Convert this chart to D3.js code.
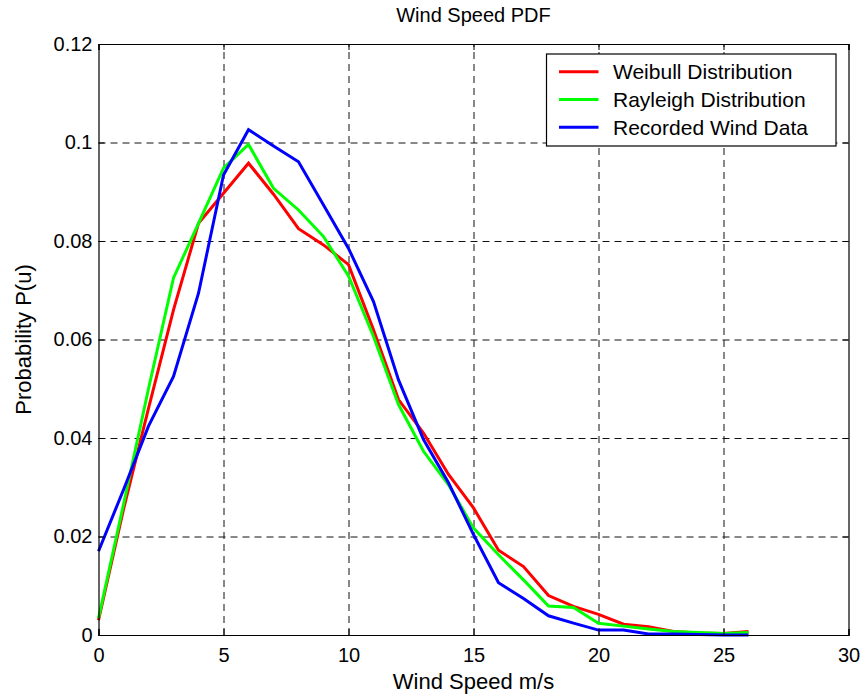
<!DOCTYPE html>
<html>
<head>
<meta charset="utf-8">
<script src="https://cdn.jsdelivr.net/npm/d3@7"></script>
<style>
    body { margin: 0; background: #ffffff; }
    svg text { font-family: "Liberation Sans", Arial, sans-serif; fill: #000; }
</style>
</head>
<body>
<div id="chart"></div>
<script>
// Wind speed PDF: fitted distributions vs recorded data
const windSpeeds = d3.range(0, 27);   // m/s, one point per integer speed

const weibull = [0.003, 0.0255, 0.046, 0.066, 0.0836, 0.0897, 0.0958, 0.0895, 0.0825, 0.0792,
    0.0752, 0.062, 0.0478, 0.041, 0.0326, 0.0258, 0.0172, 0.0139, 0.008, 0.0058,
    0.0042, 0.0022, 0.0017, 0.0007, 0.0004, 0.0003, 0.0007];

const rayleigh = [0.0034, 0.0265, 0.050, 0.0725, 0.0836, 0.0948, 0.0996, 0.0907, 0.0863, 0.0809,
    0.0729, 0.0606, 0.0468, 0.0373, 0.0305, 0.0217, 0.0163, 0.0112, 0.0059, 0.0056,
    0.0024, 0.0018, 0.0012, 0.0007, 0.0005, 0.0003, 0.0005];

const recorded = [0.017, 0.0295, 0.0424, 0.0525, 0.0694, 0.0934, 0.1026, 0.0993, 0.0961, 0.0873,
    0.0785, 0.0677, 0.0518, 0.0397, 0.0309, 0.0204, 0.0106, 0.0074, 0.0039, 0.0024,
    0.001, 0.001, 0.0002, 0.0002, 0.0001, 0, 0];

const seriesNames = ['Weibull Distribution', 'Rayleigh Distribution', 'Recorded Wind Data'];
const seriesColors = ['#ff0000', '#00ff00', '#0000ff'];

const xTicks = [0, 5, 10, 15, 20, 25, 30];
const yTicks = [0, 0.02, 0.04, 0.06, 0.08, 0.1, 0.12];

const containerWidth = 861;
const containerHeight = 696;
const margin = { top: 44, right: 12.5, bottom: 61, left: 98.5 };
const width = containerWidth - margin.left - margin.right;
const height = containerHeight - margin.top - margin.bottom;

const svg = d3.select('#chart')
    .append('svg')
    .attr('width', containerWidth)
    .attr('height', containerHeight);

const g = svg.append('g')
    .attr('transform', `translate(${margin.left},${margin.top})`);

// Scales
const xScale = d3.scaleLinear().domain([0, 30]).range([0, width]);
const yScale = d3.scaleLinear().domain([0, 0.12]).range([height, 0]);

// Dashed grid (skip the lines sitting on the box)
g.append('g')
    .attr('class', 'grid grid--x')
    .attr('transform', `translate(0,${height})`)
    .call(d3.axisBottom(xScale).tickValues(xTicks.slice(1, -1)).tickSize(-height).tickFormat(''))
    .call(a => a.select('.domain').remove());

g.append('g')
    .attr('class', 'grid grid--y')
    .call(d3.axisLeft(yScale).tickValues(yTicks.slice(1, -1)).tickSize(-width).tickFormat(''))
    .call(a => a.select('.domain').remove());

g.selectAll('.grid line')
    .attr('stroke', '#111')
    .attr('stroke-width', 1)
    .attr('stroke-dasharray', '7,5');

// Lines
const line = d3.line()
    .x((d, i) => xScale(windSpeeds[i]))
    .y(d => yScale(d));

[weibull, rayleigh, recorded].forEach((values, i) => {
    g.append('path')
        .datum(values)
        .attr('fill', 'none')
        .attr('stroke', seriesColors[i])
        .attr('stroke-width', 3)
        .attr('stroke-linejoin', 'miter')
        .attr('d', line);
});

// Axes with inward ticks on all four sides
const tickFont = '20px';

g.append('g')
    .attr('class', 'x-axis')
    .attr('transform', `translate(0,${height})`)
    .call(d3.axisBottom(xScale).tickValues(xTicks).tickSize(-6).tickPadding(13).tickFormat(d3.format('d')))
    .style('font-size', tickFont);

g.append('g')
    .attr('class', 'y-axis')
    .call(d3.axisLeft(yScale).tickValues(yTicks).tickSize(-6).tickPadding(6).tickFormat(d => d === 0 ? '0' : String(+d.toFixed(2))))
    .style('font-size', tickFont);

g.append('g')
    .call(d3.axisTop(xScale).tickValues(xTicks).tickSize(-6).tickFormat(''));

g.append('g')
    .attr('transform', `translate(${width},0)`)
    .call(d3.axisRight(yScale).tickValues(yTicks).tickSize(-6).tickFormat(''));

g.selectAll('.domain').attr('stroke', '#000').attr('stroke-width', 1.2);
g.selectAll('.tick text').style('font-family', '"Liberation Sans", Arial, sans-serif').attr('fill', '#000');

// Title and axis labels
svg.append('text')
    .attr('text-anchor', 'middle')
    .attr('x', margin.left + width / 2)
    .attr('y', 22)
    .style('font-size', '20px')
    .text('Wind Speed PDF');

svg.append('text')
    .attr('text-anchor', 'middle')
    .attr('x', margin.left + width / 2)
    .attr('y', 689)
    .style('font-size', '22px')
    .text('Wind Speed m/s');

svg.append('text')
    .attr('text-anchor', 'middle')
    .attr('transform', 'rotate(-90)')
    .attr('x', -(margin.top + height / 2))
    .attr('y', 31)
    .style('font-size', '22px')
    .text('Probability P(u)');

// Legend
const legend = svg.append('g')
    .attr('class', 'legend')
    .attr('transform', 'translate(546.5, 54)');

legend.append('rect')
    .attr('width', 289.5)
    .attr('height', 92)
    .attr('fill', '#fff')
    .attr('stroke', '#000')
    .attr('stroke-width', 1.2);

seriesNames.forEach((name, i) => {
    const row = legend.append('g')
        .attr('transform', `translate(0, ${17.7 + i * 27.8})`);

    row.append('line')
        .attr('x1', 12.5)
        .attr('x2', 52)
        .attr('stroke', seriesColors[i])
        .attr('stroke-width', 3);

    row.append('text')
        .attr('x', 66.5)
        .attr('dy', '0.35em')
        .style('font-size', '21px')
        .text(name);
});
</script>
</body>
</html>
